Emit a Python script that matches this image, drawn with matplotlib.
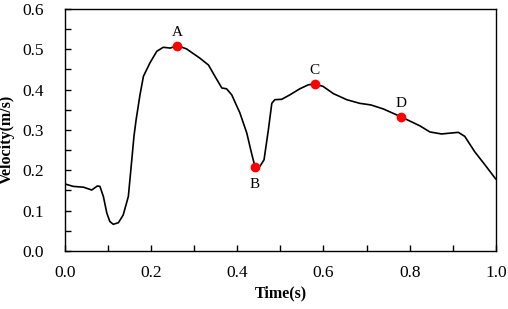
import numpy as np
import matplotlib
matplotlib.use('Agg')
import matplotlib.pyplot as plt
from matplotlib.ticker import MultipleLocator

plt.rcParams['font.family'] = ['Liberation Serif', 'DejaVu Serif']

# velocity curve
time = [0.000, 0.019, 0.043, 0.062, 0.075, 0.081, 0.089, 0.097, 0.104, 0.112,
        0.124, 0.135, 0.147, 0.155, 0.160, 0.165, 0.174, 0.182, 0.197, 0.213,
        0.228, 0.244, 0.261, 0.282, 0.313, 0.333, 0.348, 0.364, 0.375, 0.387,
        0.406, 0.422, 0.433, 0.441, 0.452, 0.462, 0.472, 0.480, 0.487, 0.503,
        0.522, 0.545, 0.565, 0.580, 0.599, 0.623, 0.654, 0.684, 0.710, 0.739,
        0.781, 0.824, 0.847, 0.874, 0.893, 0.913, 0.928, 0.951, 0.978, 1.000]
velocity = [0.166, 0.160, 0.158, 0.151, 0.161, 0.160, 0.135, 0.094, 0.073, 0.066,
            0.070, 0.089, 0.135, 0.226, 0.284, 0.325, 0.387, 0.433, 0.466, 0.495,
            0.505, 0.503, 0.509, 0.501, 0.478, 0.461, 0.433, 0.404, 0.402, 0.387,
            0.342, 0.292, 0.242, 0.209, 0.209, 0.226, 0.300, 0.366, 0.375, 0.376,
            0.387, 0.402, 0.412, 0.414, 0.408, 0.390, 0.375, 0.366, 0.362, 0.352,
            0.332, 0.310, 0.295, 0.290, 0.292, 0.294, 0.284, 0.246, 0.209, 0.178]

# marked points
point_names = ['A', 'B', 'C', 'D']
point_t = [0.261, 0.441, 0.580, 0.781]
point_v = [0.509, 0.209, 0.414, 0.332]

fig = plt.figure(figsize=(5.08, 3.09), dpi=100)
ax = fig.add_axes([0.128, 0.188, 0.848, 0.783])

ax.plot(time, velocity, color='black', linewidth=1.2,
        solid_joinstyle='round', solid_capstyle='round')
ax.plot(point_t, point_v, 'o', color='red', markersize=6, zorder=3)

for name, t, v in zip(point_names, point_t, point_v):
    if name == 'B':
        ax.annotate(name, (t, v), xytext=(0, -8), textcoords='offset points',
                    ha='center', va='top', fontsize=11)
    else:
        ax.annotate(name, (t, v), xytext=(0, 5), textcoords='offset points',
                    ha='center', va='bottom', fontsize=11)

ax.set_xlim(0, 1.0)
ax.set_ylim(0, 0.6)
ax.xaxis.set_major_locator(MultipleLocator(0.2))
ax.xaxis.set_minor_locator(MultipleLocator(0.1))
ax.yaxis.set_major_locator(MultipleLocator(0.1))
ax.yaxis.set_minor_locator(MultipleLocator(0.05))
ax.xaxis.set_major_formatter(lambda x, pos: f'{x:.1f}')
ax.yaxis.set_major_formatter(lambda y, pos: f'{y:.1f}')
ax.tick_params(which='both', direction='in', labelsize=12.5, width=1, length=4)
ax.tick_params(axis='x', which='major', pad=10)
ax.tick_params(axis='y', which='major', pad=15)

ax.set_xlabel('Time(s)', fontsize=11.5, fontweight='bold', labelpad=3)
ax.set_ylabel('Velocity(m/s)', fontsize=11.5, fontweight='bold')
ax.yaxis.set_label_coords(-0.116, 0.46)

for s in ax.spines.values():
    s.set_linewidth(1)

fig.savefig('out.png', dpi=100)
